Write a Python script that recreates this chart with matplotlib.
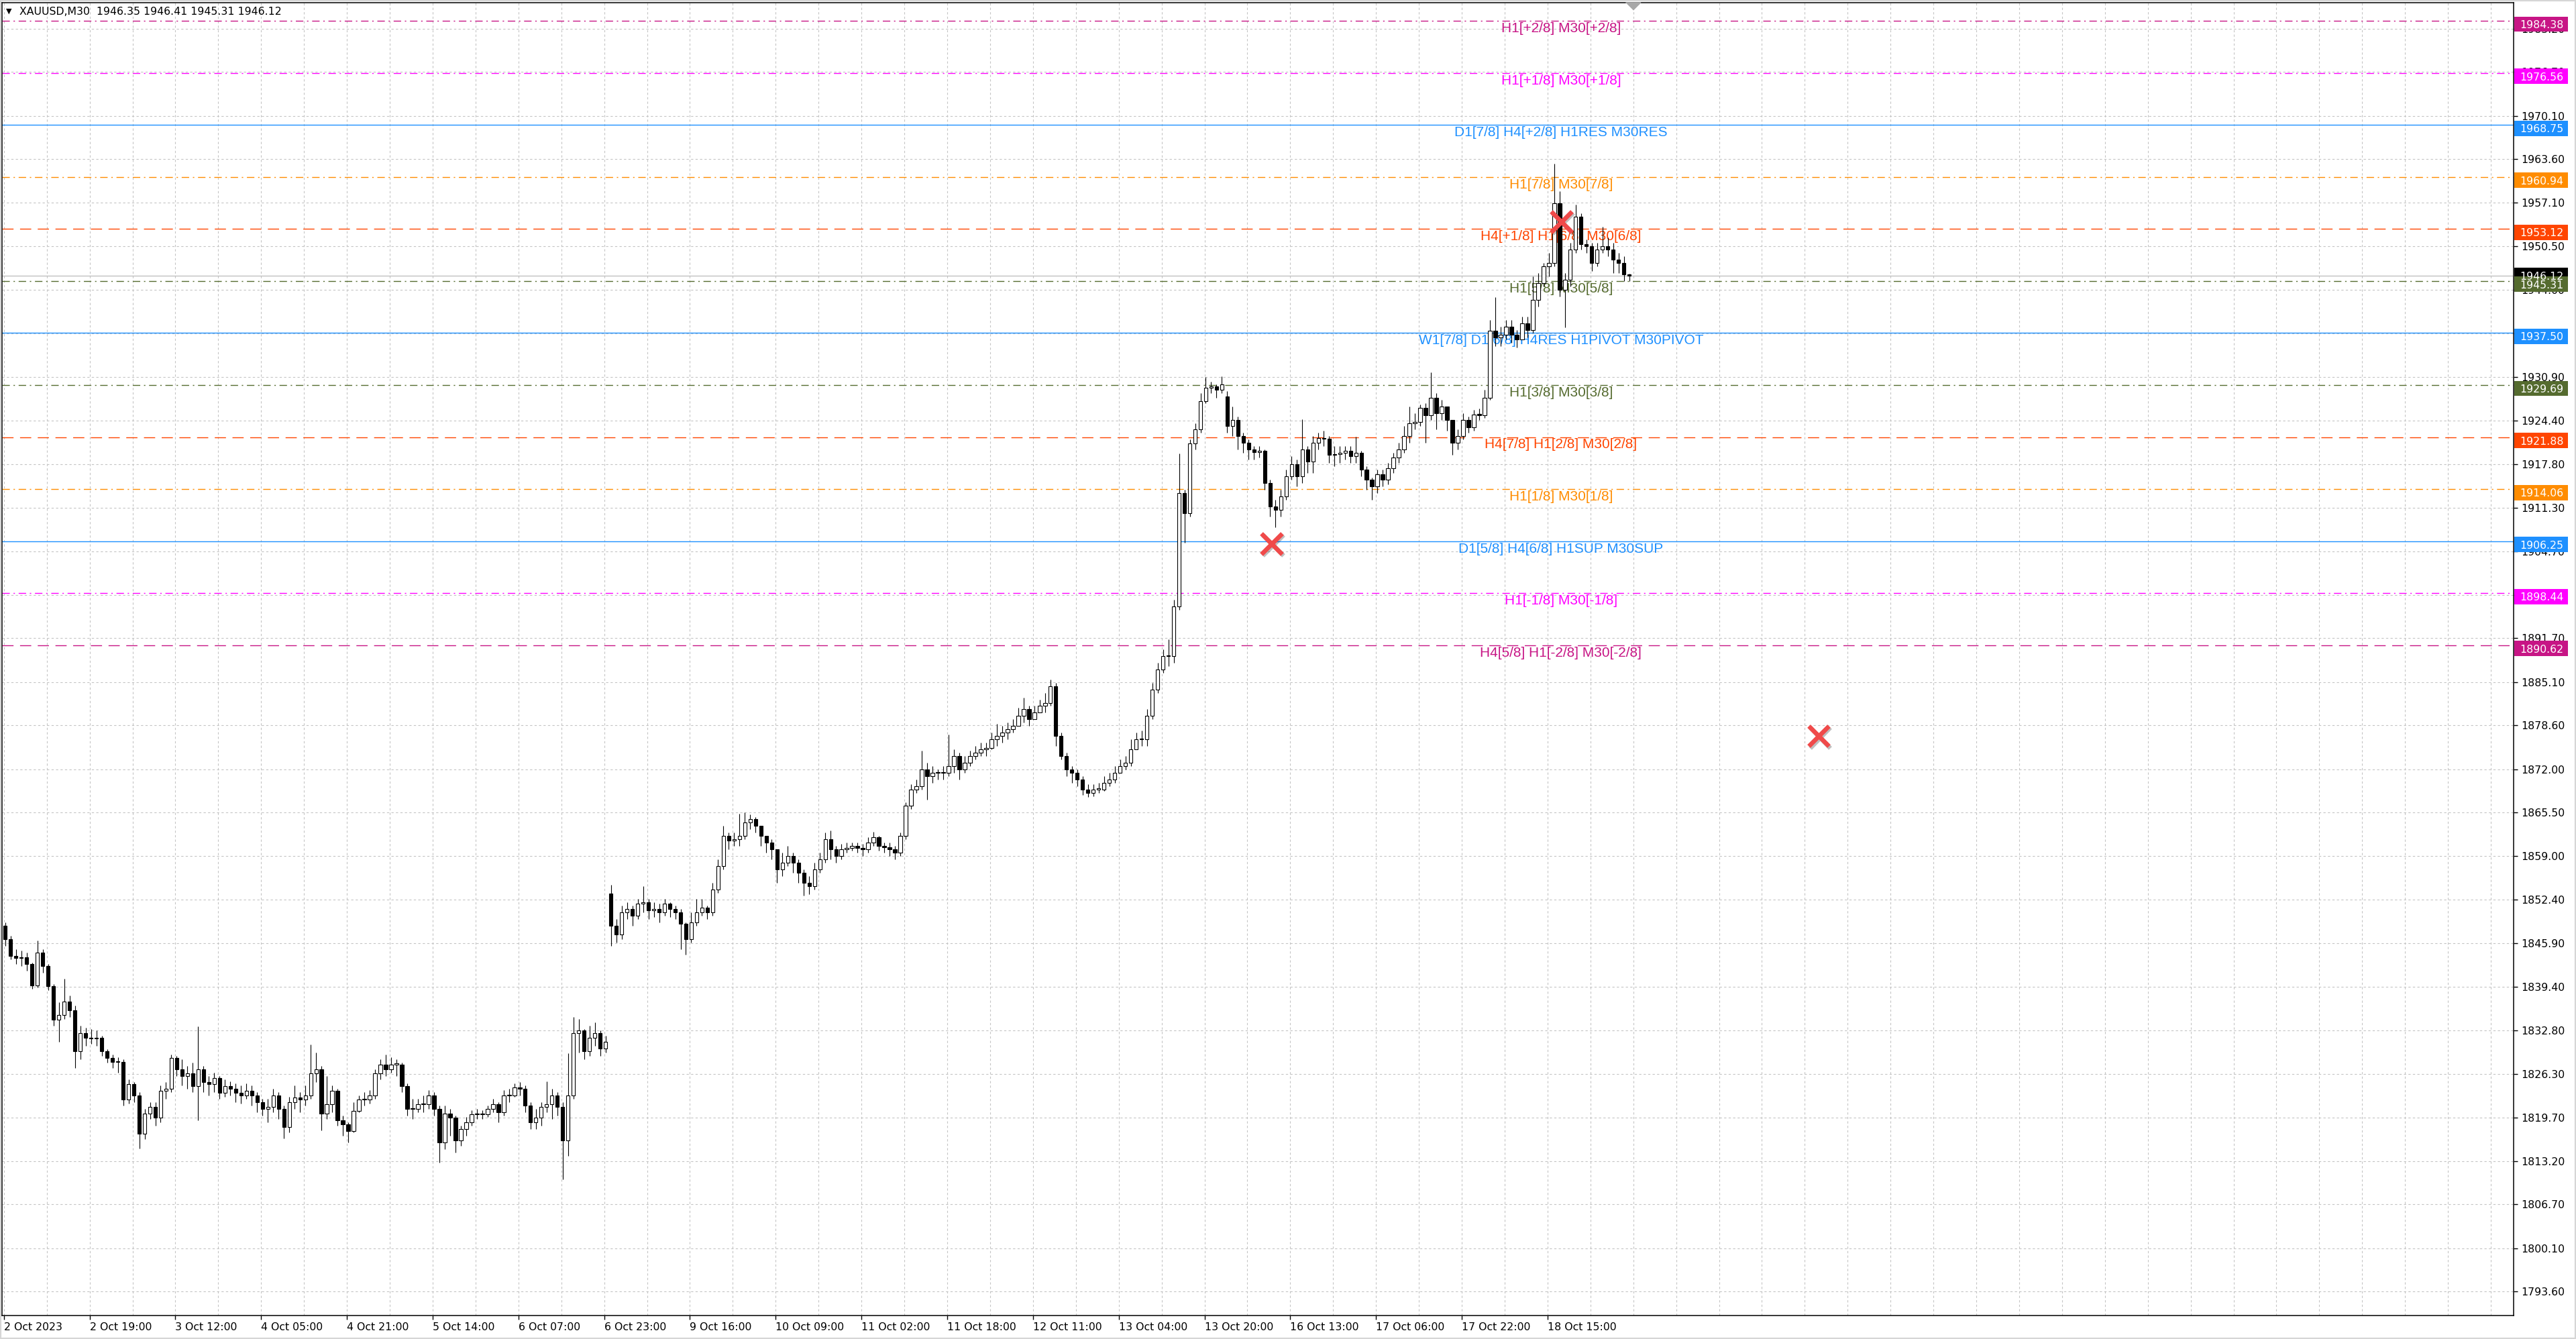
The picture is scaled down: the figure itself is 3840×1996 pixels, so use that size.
import numpy as np
import matplotlib.pyplot as plt
import matplotlib.transforms as mtransforms
import matplotlib.patheffects as pe
from matplotlib.patches import Rectangle

# ---- price data (hourly candles) ----
# week 1: 2 Oct - 6 Oct
w1_open = 1848.5
w1_close = [1846.5, 1844.0, 1843.7, 1843.8, 1842.8, 1839.6, 1844.5, 1842.5, 1839.5, 1834.4,
            1835.1, 1837.1, 1835.8, 1829.7, 1832.4, 1831.7, 1831.6, 1831.7, 1829.7, 1828.7,
            1828.1, 1828.1, 1822.4, 1824.7, 1823.0, 1817.3, 1820.3, 1821.3, 1819.7, 1823.7,
            1824.0, 1828.7, 1827.0, 1826.0, 1826.4, 1824.4, 1827.0, 1825.0, 1824.7, 1825.7,
            1823.4, 1824.4, 1824.0, 1823.4, 1823.0, 1823.7, 1823.0, 1822.0, 1821.0, 1821.3,
            1823.0, 1821.0, 1818.3, 1822.0, 1822.7, 1822.4, 1823.0, 1826.4, 1827.0, 1820.3,
            1821.7, 1823.7, 1819.3, 1818.7, 1817.7, 1820.7, 1822.4, 1822.4, 1823.0, 1826.4,
            1827.7, 1827.0, 1827.7, 1827.7, 1824.4, 1821.0, 1821.0, 1821.7, 1821.7, 1823.0,
            1821.0, 1816.0, 1820.3, 1819.7, 1816.3, 1818.0, 1819.0, 1820.2, 1820.2, 1820.2,
            1821.0, 1821.7, 1820.5, 1823.0, 1823.0, 1824.2, 1824.0, 1821.5, 1819.0, 1819.7,
            1821.3, 1821.7, 1823.0, 1821.3, 1816.3, 1823.0, 1832.4, 1832.8, 1829.7, 1831.7,
            1832.4, 1830.1, 1831.1]
w1_high = [1849.0, 1847.0, 1845.0, 1844.8, 1844.5, 1843.0, 1846.3, 1845.0, 1842.8, 1839.8,
           1837.0, 1840.6, 1838.0, 1836.5, 1833.5, 1833.2, 1833.0, 1832.8, 1832.0, 1830.0,
           1829.2, 1828.8, 1828.5, 1825.5, 1825.0, 1823.5, 1821.0, 1822.0, 1822.0, 1824.5,
           1825.0, 1829.2, 1829.0, 1828.5, 1827.5, 1828.0, 1833.4, 1827.5, 1826.0, 1826.5,
           1826.0, 1825.5, 1825.2, 1824.8, 1824.5, 1824.8, 1824.5, 1823.5, 1822.5, 1822.5,
           1824.0, 1823.5, 1821.5, 1822.8, 1824.5, 1823.5, 1824.5, 1830.7, 1829.5, 1827.5,
           1826.0, 1824.5, 1824.0, 1820.0, 1819.0, 1822.0, 1823.0, 1823.5, 1823.8, 1827.0,
           1828.5, 1829.2, 1828.8, 1828.5, 1828.0, 1824.8, 1822.5, 1822.5, 1823.0, 1823.8,
           1823.5, 1821.5, 1821.5, 1821.0, 1820.0, 1818.5, 1819.8, 1820.8, 1821.0, 1820.8,
           1821.5, 1822.5, 1822.0, 1823.8, 1824.0, 1824.8, 1825.0, 1824.5, 1822.0, 1821.0,
           1822.0, 1825.2, 1824.0, 1823.5, 1822.0, 1829.4, 1834.8, 1834.5, 1833.0, 1833.5,
           1834.0, 1832.8, 1832.0]
w1_low = [1845.5, 1843.5, 1842.8, 1842.5, 1841.8, 1839.0, 1839.2, 1841.5, 1838.8, 1833.5,
          1831.1, 1834.5, 1834.8, 1827.2, 1828.5, 1830.5, 1830.8, 1830.5, 1829.0, 1828.0,
          1827.2, 1826.5, 1821.5, 1821.8, 1822.0, 1815.1, 1816.5, 1819.5, 1818.5, 1819.0,
          1822.5, 1823.5, 1826.0, 1824.5, 1824.0, 1823.5, 1819.3, 1823.5, 1823.0, 1823.5,
          1822.5, 1822.8, 1823.0, 1822.0, 1821.8, 1822.5, 1821.5, 1820.5, 1820.0, 1819.0,
          1820.5, 1819.5, 1816.6, 1817.5, 1821.0, 1820.5, 1821.5, 1822.5, 1825.0, 1817.8,
          1819.5, 1820.5, 1818.5, 1817.0, 1816.0, 1817.5, 1820.5, 1821.5, 1821.8, 1822.5,
          1825.5, 1826.0, 1826.5, 1826.0, 1823.5, 1820.0, 1819.5, 1820.5, 1820.5, 1821.0,
          1820.0, 1813.0, 1815.0, 1817.0, 1814.5, 1815.5, 1817.0, 1818.5, 1819.5, 1819.5,
          1819.8, 1820.5, 1819.0, 1820.0, 1822.0, 1822.8, 1823.0, 1820.5, 1818.0, 1818.0,
          1818.5, 1820.5, 1819.5, 1820.0, 1810.4, 1814.0, 1822.5, 1829.5, 1828.5, 1829.0,
          1830.5, 1829.0, 1829.5]

# week 2: 9 Oct - 13 Oct
w2_open = 1853.4
w2_close = [1848.5, 1847.2, 1850.5, 1851.0, 1850.0, 1851.8, 1852.0, 1850.8, 1851.0, 1850.5,
            1851.8, 1851.0, 1850.5, 1848.8, 1846.5, 1849.0, 1850.5, 1851.2, 1850.5, 1854.0,
            1857.5, 1862.0, 1861.3, 1861.5, 1862.0, 1864.0, 1864.5, 1863.5, 1862.0, 1861.0,
            1860.0, 1857.0, 1858.0, 1859.0, 1858.0, 1856.5, 1855.0, 1854.5, 1857.0, 1858.5,
            1861.5, 1860.0, 1859.0, 1860.0, 1860.2, 1860.5, 1860.2, 1860.0, 1861.0, 1861.8,
            1860.5, 1860.3, 1860.0, 1859.5, 1862.0, 1866.5, 1869.0, 1869.5, 1872.0, 1871.0,
            1871.5, 1871.5, 1871.5, 1872.5, 1874.0, 1872.0, 1873.0, 1874.0, 1874.5, 1875.0,
            1875.2, 1876.5, 1877.0, 1877.5, 1878.0, 1878.5, 1880.0, 1881.0, 1879.5, 1880.5,
            1881.5, 1882.0, 1884.5, 1877.0, 1874.0, 1872.0, 1871.5, 1870.5, 1869.0, 1868.5,
            1869.0, 1869.0, 1870.0, 1870.5, 1871.5, 1872.5, 1873.0, 1875.0, 1876.5, 1876.5,
            1880.0, 1884.0, 1887.0, 1889.0, 1889.0, 1896.5, 1913.5, 1910.5, 1920.9, 1923.0,
            1927.3, 1929.3, 1929.5, 1929.0, 1929.8]
w2_high = [1854.7, 1849.5, 1851.5, 1852.0, 1851.5, 1852.5, 1854.5, 1852.5, 1852.0, 1851.8,
           1852.5, 1852.0, 1851.5, 1851.0, 1849.0, 1850.5, 1852.5, 1852.5, 1851.5, 1855.0,
           1858.5, 1863.5, 1862.5, 1862.5, 1865.3, 1865.5, 1865.2, 1864.8, 1863.5, 1862.0,
           1861.5, 1860.0, 1859.5, 1860.5, 1859.5, 1858.5, 1857.0, 1856.0, 1858.0, 1859.5,
           1862.5, 1862.8, 1860.5, 1860.8, 1861.0, 1861.0, 1861.0, 1860.8, 1861.8, 1862.6,
           1862.0, 1861.0, 1861.0, 1860.5, 1862.5, 1867.0, 1869.8, 1870.5, 1874.8, 1873.0,
           1872.5, 1872.0, 1872.5, 1877.2, 1875.0, 1874.5, 1874.0, 1874.8, 1875.5, 1876.0,
           1876.0, 1877.5, 1878.8, 1878.5, 1879.0, 1879.5, 1881.2, 1882.8, 1881.5, 1881.5,
           1882.5, 1883.5, 1885.5, 1885.0, 1877.5, 1874.5, 1872.5, 1872.0, 1871.0, 1869.8,
           1869.8, 1870.0, 1871.0, 1871.5, 1872.5, 1873.5, 1874.0, 1876.5, 1877.5, 1877.8,
           1881.0, 1885.0, 1888.0, 1890.0, 1891.5, 1897.5, 1919.4, 1914.0, 1921.5, 1924.0,
           1928.5, 1930.9, 1930.2, 1929.8, 1931.0]
w2_low = [1845.5, 1846.0, 1846.5, 1849.5, 1848.5, 1849.5, 1850.5, 1849.5, 1849.8, 1849.0,
          1850.0, 1849.8, 1849.5, 1845.0, 1844.2, 1846.0, 1848.5, 1850.0, 1849.5, 1850.0,
          1853.5, 1857.0, 1860.0, 1860.5, 1860.5, 1861.5, 1863.0, 1862.5, 1860.5, 1859.5,
          1858.5, 1855.0, 1856.0, 1857.5, 1856.5, 1855.0, 1853.0, 1853.2, 1854.0, 1856.5,
          1858.0, 1858.5, 1858.0, 1858.5, 1859.5, 1859.8, 1859.5, 1859.0, 1859.5, 1860.5,
          1859.8, 1859.5, 1859.0, 1858.5, 1859.0, 1861.5, 1866.0, 1868.5, 1869.0, 1867.5,
          1870.0, 1870.5, 1870.5, 1871.0, 1871.5, 1870.5, 1871.5, 1872.5, 1873.5, 1874.0,
          1874.0, 1875.0, 1875.5, 1876.0, 1876.5, 1877.5, 1878.5, 1879.0, 1878.5, 1879.5,
          1880.5, 1880.5, 1881.5, 1875.5, 1873.5, 1871.0, 1870.0, 1869.5, 1868.2, 1867.9,
          1868.0, 1868.5, 1868.8, 1869.5, 1870.0, 1871.5, 1872.0, 1872.5, 1875.0, 1875.5,
          1875.5, 1879.5, 1883.5, 1886.5, 1887.5, 1888.0, 1896.0, 1906.0, 1910.0, 1920.0,
          1922.5, 1927.0, 1928.5, 1927.8, 1928.5]

# week 3: 16 Oct - 19 Oct
w3_open = 1928.0
w3_close = [1923.5, 1924.5, 1922.0, 1921.0, 1920.0, 1919.6, 1919.8, 1915.0, 1911.5, 1911.0,
            1913.0, 1916.0, 1917.8, 1916.0, 1920.0, 1918.2, 1921.0, 1921.7, 1921.6, 1919.2,
            1919.3, 1919.5, 1919.8, 1919.0, 1919.5, 1917.0, 1915.5, 1914.5, 1916.3, 1915.5,
            1917.2, 1918.8, 1920.0, 1922.0, 1924.0, 1924.2, 1926.3, 1925.2, 1927.8, 1925.5,
            1926.5, 1924.5, 1921.0, 1922.0, 1924.5, 1923.3, 1925.3, 1925.2, 1927.8, 1937.8,
            1936.8, 1937.2, 1938.5, 1937.2, 1936.5, 1939.0, 1938.0, 1942.5, 1945.0, 1947.5,
            1948.0, 1957.0, 1944.0, 1945.5, 1950.0, 1955.0, 1950.8, 1950.5, 1948.0, 1950.0,
            1950.5, 1950.0, 1948.5, 1948.0, 1946.35, 1946.12]
w3_high = [1928.8, 1926.5, 1925.0, 1922.5, 1921.5, 1920.5, 1920.5, 1920.0, 1915.5, 1912.5,
           1914.0, 1917.0, 1919.0, 1918.5, 1924.6, 1920.5, 1922.0, 1922.5, 1922.8, 1922.0,
           1920.5, 1920.5, 1920.5, 1920.5, 1921.9, 1919.8, 1917.5, 1915.8, 1917.0, 1917.0,
           1918.0, 1919.5, 1921.0, 1923.5, 1926.5, 1925.5, 1926.8, 1927.0, 1931.6, 1928.5,
           1927.5, 1926.5, 1924.5, 1923.0, 1925.5, 1925.0, 1926.0, 1926.2, 1929.0, 1939.5,
           1942.9, 1938.5, 1939.5, 1939.5, 1938.0, 1940.0, 1940.0, 1946.0, 1946.5, 1948.0,
           1949.5, 1962.9, 1958.8, 1946.5, 1951.0, 1956.8, 1955.5, 1951.5, 1951.0, 1951.0,
           1953.5, 1951.8, 1951.0, 1949.5, 1949.0, 1946.41]
w3_low = [1922.5, 1922.0, 1920.0, 1919.5, 1918.5, 1918.5, 1918.8, 1914.0, 1910.0, 1908.3,
          1910.0, 1912.5, 1915.5, 1914.5, 1915.0, 1916.5, 1916.5, 1920.0, 1920.5, 1918.0,
          1917.5, 1918.0, 1918.5, 1918.0, 1918.0, 1916.0, 1914.0, 1912.5, 1913.5, 1914.5,
          1914.8, 1916.5, 1918.0, 1919.5, 1921.0, 1923.0, 1923.5, 1921.0, 1924.5, 1923.0,
          1924.5, 1922.8, 1919.2, 1920.0, 1921.5, 1922.5, 1922.8, 1924.5, 1924.8, 1927.5,
          1935.5, 1935.5, 1936.5, 1936.0, 1935.3, 1936.5, 1936.8, 1937.5, 1941.5, 1944.5,
          1946.0, 1947.5, 1943.0, 1938.4, 1944.5, 1949.5, 1950.0, 1949.5, 1946.8, 1947.5,
          1949.5, 1949.0, 1946.5, 1946.5, 1945.3, 1945.31]

# Murrey math levels drawn by the indicator
level_prices = [1984.38, 1976.56, 1968.75, 1960.94, 1953.12, 1945.31, 1937.50,
                1929.69, 1921.88, 1914.06, 1906.25, 1898.44, 1890.62]
level_labels = ["H1[+2/8] M30[+2/8]", "H1[+1/8] M30[+1/8]",
                "D1[7/8] H4[+2/8] H1RES M30RES", "H1[7/8] M30[7/8]",
                "H4[+1/8] H1[6/8] M30[6/8]", "H1[5/8] M30[5/8]",
                "W1[7/8] D1[6/8] H4RES H1PIVOT M30PIVOT", "H1[3/8] M30[3/8]",
                "H4[7/8] H1[2/8] M30[2/8]", "H1[1/8] M30[1/8]",
                "D1[5/8] H4[6/8] H1SUP M30SUP", "H1[-1/8] M30[-1/8]",
                "H4[5/8] H1[-2/8] M30[-2/8]"]
level_colors = ['#C71585', '#FF00FF', '#1E90FF', '#FF8C00', '#FF4500', '#556B2F', '#1E90FF',
                '#556B2F', '#FF4500', '#FF8C00', '#1E90FF', '#FF00FF', '#C71585']
level_kinds = ['dashdot', 'dashdot', 'solid', 'dashdot', 'dash', 'dashdot', 'solid',
               'dashdot', 'dash', 'dashdot', 'solid', 'dashdot', 'dash']
bid_price = 1946.12

# red cross objects on the chart (bar index, price)
cross_bars = [473.0, 581.2, 677.2]
cross_prices = [1905.9, 1954.2, 1877.0]

# axes labels
ytick_values = [1793.60, 1800.10, 1806.70, 1813.20, 1819.70, 1826.30, 1832.80, 1839.40,
                1845.90, 1852.40, 1859.00, 1865.50, 1872.00, 1878.60, 1885.10, 1891.70,
                1898.20, 1904.70, 1911.30, 1917.80, 1924.40, 1930.90, 1937.40, 1944.00,
                1950.50, 1957.10, 1963.60, 1970.10, 1976.70, 1983.20]
time_labels = ["2 Oct 2023", "2 Oct 19:00", "3 Oct 12:00", "4 Oct 05:00", "4 Oct 21:00",
               "5 Oct 14:00", "6 Oct 07:00", "6 Oct 23:00", "9 Oct 16:00", "10 Oct 09:00",
               "11 Oct 02:00", "11 Oct 18:00", "12 Oct 11:00", "13 Oct 04:00", "13 Oct 20:00",
               "16 Oct 13:00", "17 Oct 06:00", "17 Oct 22:00", "18 Oct 15:00"]
header = "XAUUSD,M30  1946.35 1946.41 1945.31 1946.12"

# ---- assemble candles ----
closes = np.array(w1_close + w2_close + w3_close)
highs = np.array(w1_high + w2_high + w3_high)
lows = np.array(w1_low + w2_low + w3_low)
opens = np.r_[np.nan, closes[:-1]]
opens[0] = w1_open
opens[len(w1_close)] = w2_open
opens[len(w1_close) + len(w2_close)] = w3_open
xs = np.arange(len(closes)) * 2 + 0.5   # one hourly candle = two M30 bars

W, H = 3840, 1996
fig = plt.figure(figsize=(W / 100, H / 100), dpi=100)
ax = fig.add_axes([3 / W, 1 - 1961 / H, 3744 / W, 1957 / H])
ax.set_xlim(-0.7, 936.5)
ax.set_ylim(1790.0, 1987.1)

# grid
ax.set_xticks(np.arange(0, 32 * len(time_labels), 32))
ax.set_xticklabels(time_labels)
ax.set_xticks(np.arange(0, 937, 16), minor=True)
ax.set_yticks(ytick_values)
ax.set_yticklabels(["%.2f" % v for v in ytick_values])
ax.grid(True, which='both', axis='x', color='#c4c4c4', linestyle=(0, (3, 3)), linewidth=0.8)
ax.grid(True, which='major', axis='y', color='#c4c4c4', linestyle=(0, (3, 3)), linewidth=0.8)
ax.set_axisbelow(True)

ax.yaxis.tick_right()
ax.tick_params(axis='y', length=4, width=1, pad=4, labelsize=11.3, colors='black')
ax.tick_params(axis='x', which='major', length=4, width=1, pad=3.5, labelsize=11.3)
ax.tick_params(axis='x', which='minor', length=0)
for lab in ax.get_xticklabels():
    lab.set_ha('left')
for sp in ax.spines.values():
    sp.set_linewidth(1.1)
    sp.set_color('black')

# level lines and their labels
dash_map = {'solid': '-', 'dash': (0, (12, 7)), 'dashdot': (0, (8, 4, 1.5, 4))}
for p, lab, col, kind in zip(level_prices, level_labels, level_colors, level_kinds):
    ax.axhline(p, color=col, lw=1.0, linestyle=dash_map[kind], zorder=1)
    ax.annotate(lab, xy=(581, p), xytext=(0, -8.2), textcoords='offset points',
                ha='center', va='center', color=col, fontsize=15,
                family='Liberation Sans', zorder=2)
ax.axhline(bid_price, color='#c0c0c0', lw=1.0, zorder=1)

# candles
up = closes >= opens
ax.vlines(xs, lows, highs, color='black', lw=0.8, zorder=3)
body = np.maximum(np.abs(closes - opens), 0.12)
ax.bar(xs[up], body[up], bottom=opens[up], width=1.35, facecolor='white',
       edgecolor='black', linewidth=0.8, zorder=4)
ax.bar(xs[~up], body[~up], bottom=closes[~up], width=1.35, facecolor='black',
       edgecolor='black', linewidth=0.8, zorder=4)

# red crosses
ax.plot(cross_bars, cross_prices, linestyle='none', marker='x', ms=22, mew=4.8,
        color='#f04a4a', zorder=6, clip_on=False,
        path_effects=[pe.SimpleLineShadow(offset=(1.5, -1.5), alpha=0.25), pe.Normal()])

# chart shift marker
ax.plot([607.8], [1986.6], marker=[(-1, 0.5), (1, 0.5), (0, -0.5)], ms=16,
        color='#a8a8a8', linestyle='none', clip_on=False, zorder=6)

# price boxes on the right scale (level boxes sit a few pixels below their line)
trans = mtransforms.blended_transform_factory(ax.transAxes, ax.transData)
box_prices = [bid_price] + level_prices
box_centers = [bid_price] + [p - 0.5 for p in level_prices]
box_colors = ['black'] + level_colors
for p, yc, col in zip(box_prices, box_centers, box_colors):
    ax.add_patch(Rectangle((1.0003, yc - 1.15), 0.0213, 2.3, transform=trans,
                           facecolor=col, edgecolor='none', clip_on=False, zorder=5))
    ax.text(1.0024, yc, "%.2f" % p, transform=trans, ha='left', va='center_baseline',
            color='white', fontsize=11.3, clip_on=False, zorder=6)

# header
fig.text(9 / W, 1 - 17 / H, "\u25BC", fontsize=8, va='center', ha='left', color='black')
fig.text(29 / W, 1 - 17 / H, header, fontsize=11.3, va='center', ha='left', color='black')

# window frame
fig.patches.append(Rectangle((0, 0), 1, 1, transform=fig.transFigure, fill=False,
                             edgecolor='#d6d6d6', linewidth=3))

fig.savefig('out.png', dpi=100)
